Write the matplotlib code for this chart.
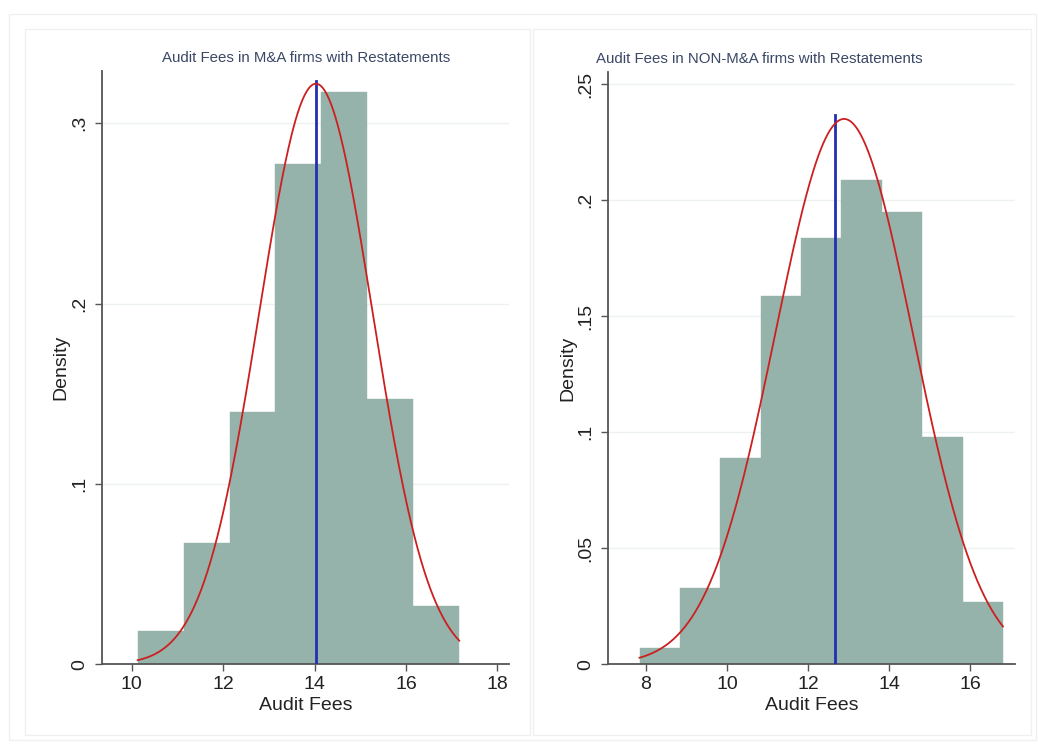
import numpy as np
import matplotlib
matplotlib.use("Agg")
import matplotlib.pyplot as plt
from matplotlib.patches import Rectangle

plt.rcParams['font.family'] = ['Liberation Sans', 'DejaVu Sans']

# ---------------- data ----------------
# Left panel: M&A firms with restatements
ma_title = "Audit Fees in M&A firms with Restatements"
ma_bin_start = 10.13
ma_bin_width = 1.005
ma_density = [0.0183, 0.0670, 0.1400, 0.2773, 0.3176, 0.1474, 0.0325]
ma_norm_mean = 14.03
ma_norm_sd = 1.239
ma_line_x = 14.04
ma_line_top = 0.3235
ma_yticks = [0, 0.1, 0.2, 0.3]
ma_yticklabels = ["0", ".1", ".2", ".3"]
ma_xticks = [10, 12, 14, 16, 18]

# Right panel: NON-M&A firms with restatements
non_title = "Audit Fees in NON-M&A firms with Restatements"
non_bin_start = 7.84
non_bin_width = 0.997
non_density = [0.0069, 0.0330, 0.0889, 0.1587, 0.1835, 0.2087, 0.1947, 0.0980, 0.0268]
non_norm_mean = 12.89
non_norm_sd = 1.698
non_line_x = 12.67
non_line_top = 0.2367
non_yticks = [0, 0.05, 0.10, 0.15, 0.20, 0.25]
non_yticklabels = ["0", ".05", ".1", ".15", ".2", ".25"]
non_xticks = [8, 10, 12, 14, 16]

x_label = "Audit Fees"
y_label = "Density"

BAR = "#95b3ab"
RED = "#cc2020"
BLUE = "#2230b0"
SPINE = "#555555"
GRID = "#eef1f1"
TITLE = "#3a4866"

W, H = 1038, 749
fig = plt.figure(figsize=(W / 100, H / 100), dpi=100)
fig.patch.set_facecolor("white")


def fx(px):
    return px / W


def fy(py):
    return 1 - py / H


# faint frames
frame_kw = dict(transform=fig.transFigure, fill=False, lw=1.0, ec="#f0f0f0")
fig.patches.append(Rectangle((fx(9), fy(740)), fx(1036) - fx(9), fy(14) - fy(740), **frame_kw))
fig.patches.append(Rectangle((fx(25), fy(735)), fx(530) - fx(25), fy(29) - fy(735), **frame_kw))
fig.patches.append(Rectangle((fx(533), fy(735)), fx(1031) - fx(533), fy(29) - fy(735), **frame_kw))


def panel(rect, xlim, ylim, bin_start, bin_width, dens, mu, sd, lx, ltop,
          yticks, ylabels, xticks, title, title_xy):
    ax = fig.add_axes(rect)
    ax.set_xlim(*xlim)
    ax.set_ylim(*ylim)
    n = len(dens)
    edges = bin_start + bin_width * np.arange(n)
    ax.bar(edges, dens, width=bin_width, align="edge", color=BAR,
           edgecolor=BAR, linewidth=0.3, zorder=2)
    xs = np.linspace(bin_start, bin_start + bin_width * n, 300)
    pdf = np.exp(-0.5 * ((xs - mu) / sd) ** 2) / (sd * np.sqrt(2 * np.pi))
    ax.plot(xs, pdf, color=RED, lw=1.3, zorder=4)
    ax.plot([lx, lx], [0, ltop], color=BLUE, lw=2.0, zorder=3)
    for t in yticks[1:]:
        ax.axhline(t, color=GRID, lw=1.0, zorder=1)
    for s in ["top", "right"]:
        ax.spines[s].set_visible(False)
    for s in ["left", "bottom"]:
        ax.spines[s].set_color(SPINE)
        ax.spines[s].set_linewidth(1.3)
    ax.set_yticks(yticks)
    ax.set_yticklabels(ylabels, rotation=90, va="center")
    ax.set_xticks(xticks)
    ax.set_xticklabels([str(v) for v in xticks])
    ax.tick_params(axis="both", colors=SPINE, length=5, width=1.0,
                   labelsize=14, labelcolor="#222222")
    ax.tick_params(axis="y", pad=5)
    ax.tick_params(axis="x", pad=3.5)
    ax.set_xlabel(x_label, fontsize=14, color="#222222", labelpad=3)
    ax.set_ylabel(y_label, fontsize=14, color="#222222", labelpad=1)
    fig.text(fx(title_xy[0]), fy(title_xy[1]), title, ha="center", va="center",
             fontsize=10.8, color=TITLE)
    return ax


axL = panel([fx(101.7), fy(664.3), fx(509.3) - fx(101.7), fy(70.7) - fy(664.3)],
            (9.344, 18.26), (0, 0.3292),
            ma_bin_start, ma_bin_width, ma_density, ma_norm_mean, ma_norm_sd,
            ma_line_x, ma_line_top, ma_yticks, ma_yticklabels, ma_xticks,
            ma_title, (306.5, 58))

axR = panel([fx(608.3), fy(664.3), fx(1015) - fx(608.3), fy(71.7) - fy(664.3)],
            (7.069, 17.11), (0, 0.2553),
            non_bin_start, non_bin_width, non_density, non_norm_mean, non_norm_sd,
            non_line_x, non_line_top, non_yticks, non_yticklabels, non_xticks,
            non_title, (759, 59))

fig.savefig("out.png", dpi=100, facecolor="white")
